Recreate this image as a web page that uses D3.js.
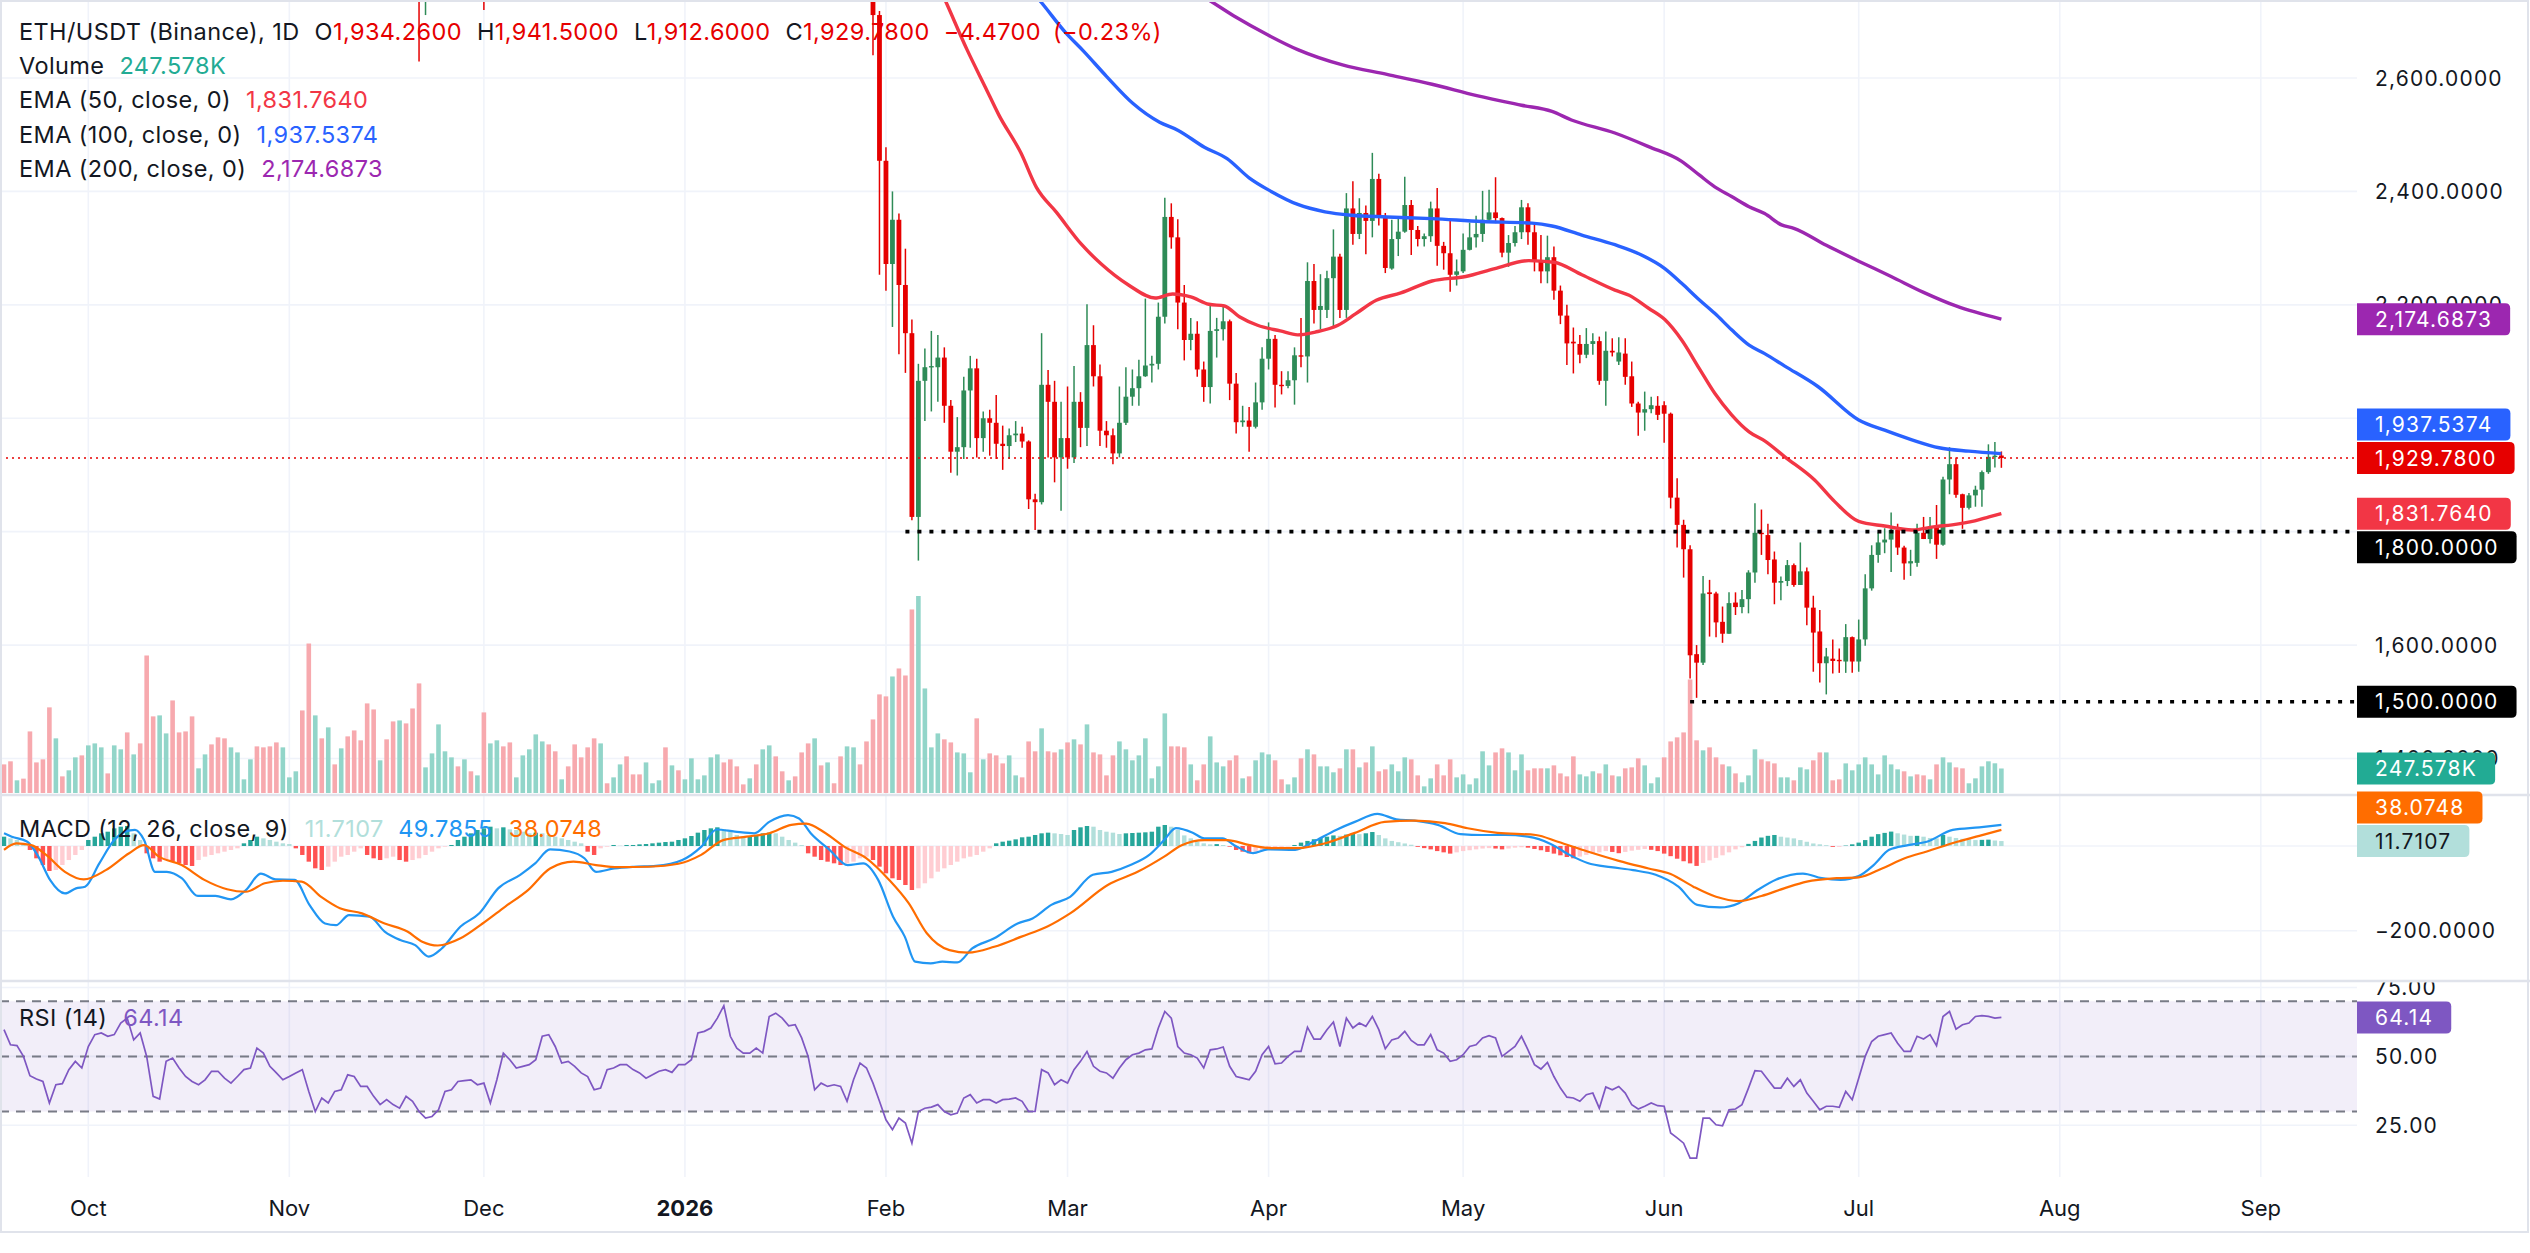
<!DOCTYPE html>
<html lang="en">
<head>
<meta charset="utf-8"/>
<title>ETH/USDT (Binance), 1D</title>
<script src="https://cdn.jsdelivr.net/npm/d3@7/dist/d3.min.js"></script>
<style>
  html, body { margin:0; padding:0; background:#fff; overflow:hidden; }
  svg { display:block; font-family: Inter, "Noto Sans", sans-serif; }
</style>
</head>
<body>
<svg id="chart" width="2530" height="1253"></svg>
<script>
// ---- data (day index 0 = 2025-09-18) ----
const startDate = Date.UTC(2025, 8, 18);

// [day, open, high, low, close]; earlier candles sit above the visible range
const candles = [
  [64,2880,2935,2629,2790],[65,2790,2880,2711,2850],[74,2950,3010,2720,2900],
  [134,2790,2800,2640,2711],[135,2711,2718,2253,2454],[136,2454,2478,2225,2272],[137,2272,2400,2161,2350],
  [138,2350,2361,2113,2235],[139,2235,2299,2080,2150],[140,2150,2174,1820,1826],[141,1826,2096,1749,2066],
  [142,2066,2123,1995,2090],[143,2090,2154,2012,2092],[144,2090,2147,2029,2107],[145,2107,2125,1992,2022],
  [146,2022,2032,1904,1941],[147,1941,2002,1899,1949],[148,1949,2073,1928,2049],[149,2049,2110,1948,2088],
  [150,2088,2105,1931,1965],[151,1965,2012,1941,2000],[152,2000,2015,1934,1992],[153,1992,2041,1928,1955],
  [154,1955,1987,1909,1951],[155,1951,1982,1928,1970],[156,1970,1995,1958,1973],[157,1973,1985,1948,1959],
  [158,1959,1961,1840,1857],[159,1857,1867,1803,1852],[160,1852,2150,1848,2059],[161,2059,2085,1931,2029],
  [162,2029,2066,1887,1931],[163,1931,2029,1837,1965],[164,1965,2056,1911,1931],[165,1931,2092,1921,2029],
  [166,2029,2046,1949,1983],[167,1983,2201,1951,2129],[168,2129,2164,2056,2074],[169,2074,2095,1951,1978],
  [170,1978,1995,1948,1970],[171,1970,1982,1919,1938],[172,1938,2056,1931,1992],[173,1992,2090,1988,2038],
  [174,2038,2086,2022,2053],[175,2053,2103,2022,2074],[176,2074,2211,2073,2093],[177,2093,2110,2063,2096],
  [178,2096,2204,2086,2179],[179,2179,2389,2167,2355],[180,2355,2379,2299,2319],[181,2319,2351,2157,2204],
  [182,2204,2235,2102,2138],[183,2138,2177,2120,2149],[184,2149,2171,2073,2086],[185,2086,2100,2029,2055],
  [186,2055,2199,2026,2154],[187,2154,2177,2107,2157],[188,2157,2200,2137,2171],[189,2171,2174,2032,2061],
  [190,2061,2080,1973,1993],[191,1993,2022,1985,1996],[192,1996,2020,1941,1985],[193,1985,2063,1982,2028],
  [194,2028,2125,2015,2105],[195,2105,2169,2086,2140],[196,2140,2147,2019,2059],[197,2059,2083,2042,2057],
  [198,2057,2083,2053,2067],[199,2067,2125,2024,2111],[200,2111,2177,2090,2109],[201,2109,2275,2063,2242],
  [202,2242,2272,2167,2191],[203,2191,2254,2157,2198],[204,2191,2260,2177,2247],[205,2247,2333,2161,2285],
  [206,2285,2290,2177,2191],[207,2191,2397,2177,2370],[208,2370,2418,2306,2325],[209,2325,2388,2316,2362],
  [210,2362,2375,2289,2348],[211,2348,2468,2319,2422],[212,2422,2431,2340,2356],[213,2356,2362,2256,2265],
  [214,2264,2350,2262,2316],[215,2316,2356,2286,2329],[216,2329,2426,2327,2376],[217,2376,2385,2288,2332],
  [218,2332,2339,2303,2316],[219,2316,2326,2303,2321],[220,2321,2382,2311,2370],[221,2370,2406,2269,2304],
  [222,2304,2311,2262,2291],[223,2291,2350,2223,2253],[224,2253,2280,2234,2259],[225,2259,2326,2256,2297],
  [226,2297,2345,2296,2319],[227,2319,2357,2301,2325],[228,2325,2401,2311,2350],[229,2350,2403,2347,2363],
  [230,2363,2425,2344,2353],[231,2353,2354,2284,2292],[232,2292,2323,2267,2309],[233,2309,2339,2303,2328],
  [234,2328,2385,2316,2372],[235,2372,2379,2306,2328],[236,2328,2344,2259,2276],[237,2276,2323,2238,2259],
  [238,2259,2322,2238,2284],[239,2284,2303,2209,2225],[240,2225,2234,2166,2181],[241,2181,2200,2094,2132],
  [242,2135,2160,2079,2132],[243,2131,2147,2097,2112],[244,2112,2159,2106,2131],[245,2131,2150,2112,2136],
  [246,2136,2144,2059,2066],[247,2066,2153,2022,2119],[248,2119,2141,2109,2116],[249,2100,2143,2094,2116],
  [250,2114,2141,2059,2073],[251,2074,2100,2020,2026],[252,2026,2029,1969,2010],[253,2010,2047,1978,2016],
  [254,2016,2038,2009,2023],[255,2022,2039,1997,2006],[256,2023,2030,1957,2008],[257,2008,2010,1841,1860],
  [258,1860,1894,1772,1812],[259,1812,1821,1719,1769],[260,1769,1776,1541,1582],[261,1584,1600,1507,1569],
  [262,1569,1722,1565,1691],[263,1693,1715,1615,1690],[264,1691,1694,1614,1640],[265,1641,1668,1604,1620],
  [266,1620,1693,1620,1674],[267,1675,1693,1653,1667],[268,1667,1697,1656,1681],[269,1681,1732,1656,1728],
  [270,1728,1850,1710,1798],[271,1798,1839,1759,1796],[272,1794,1814,1725,1750],[273,1751,1765,1672,1710],
  [274,1710,1721,1679,1713],[275,1713,1750,1704,1741],[276,1741,1744,1703,1706],[277,1706,1781,1706,1730],
  [278,1730,1737,1635,1666],[279,1666,1687,1553,1622],[280,1624,1662,1534,1568],[281,1568,1595,1513,1580],
  [282,1576,1610,1550,1572],[283,1574,1594,1551,1572],[284,1571,1637,1551,1614],[285,1614,1615,1551,1571],
  [286,1571,1645,1553,1610],[287,1610,1725,1599,1700],[288,1700,1776,1696,1759],[289,1759,1798,1745,1781],
  [290,1781,1806,1762,1786],[291,1786,1834,1729,1803],[292,1803,1814,1759,1772],[293,1772,1775,1715,1744],
  [294,1744,1768,1722,1748],[295,1745,1814,1738,1798],[296,1798,1826,1787,1787],[297,1787,1826,1779,1808],
  [298,1808,1847,1752,1777],[299,1777,1897,1775,1892],[300,1892,1949,1866,1919],[301,1919,1931,1860,1865],
  [302,1866,1867,1805,1842],[303,1842,1868,1839,1864],[304,1864,1881,1844,1874],[305,1874,1908,1844,1905],
  [306,1905,1954,1902,1932],[307,1932,1958,1913,1934],[308,1934.26,1941.5,1912.6,1929.78]
];

// volume in thousands, one per day; t = up colour, r = down colour
const volumes = [
  289,320,128,145,622,309,340,865,552,168, 229,360,380,481,501,461,198,481,441,612,
  390,501,1389,774,784,602,935,612,622,774, 249,390,491,562,552,461,410,138,340,471,
  461,471,511,461,158,219,834,1510,784,552, 663,289,451,572,632,532,905,844,330,542,
  723,733,703,854,1107,259,400,693,421,360, 269,340,219,178,814,501,532,471,511,158,
  380,441,592,521,491,421,138,269,491,360, 461,552,501,98,158,289,370,188,188,309,
  98,128,461,279,229,138,350,138,178,360, 390,309,340,269,87,148,289,441,481,370,
  219,128,168,410,501,552,279,309,98,370, 471,461,289,521,743,996,976,1177,1258,1187,
  1854,1990,1056,461,602,542,511,410,400,209, 754,340,400,380,299,380,178,158,521,421,
  653,421,410,441,511,542,491,693,410,390, 178,380,521,441,330,380,552,148,269,804,
  471,471,461,289,128,289,572,309,269,330, 380,148,168,330,410,390,330,138,87,158,
  350,441,390,269,269,209,249,441,441,259, 309,471,219,239,289,219,360,340,178,67,
  148,289,178,340,158,188,87,148,421,279, 410,451,410,229,390,229,249,249,249,279,
  198,168,370,188,168,219,198,289,178,168, 249,259,350,279,98,158,360,521,562,612,
  1147,532,431,461,360,289,269,198,108,178, 441,340,320,299,158,158,128,259,239,330,
  410,410,128,138,299,229,289,360,289,188, 380,289,239,219,168,188,178,138,289,360,
  309,259,249,98,148,269,320,300,247.578
];
const volDir =
  "rrtrrrrrtr" + "ttrtttrttr" + "trrrttrrrr" + "ttrrrttttr" + "rrrtttrrtr" +
  "trtrrrrrtr" + "rtrrrttttt" + "rtrtrttrrt" + "ttttrrtrrr" + "rrtrttrrrt" +
  "ttrtrttttt" + "trrrrtrttr" + "rtrrrtrtrr" + "ttrrrrrtrr" + "rttttrrttt" +
  "rtrrrttrrr" + "trrtrtrtrr" + "rrtttttttt" + "rrrtrrtttr" + "rtrtttrrtt" +
  "rtrtttrtrt" + "rtrrtttrrt" + "trrrtttttt" + "rrtttrrrtr" + "rrrtttrtrt" +
  "rrrtttrrrr" + "rrtrrrtrtt" + "trrrttrttr" + "rtrrtttttt" + "tttrtrrtrt" +
  "trrtttttt";

// moving averages: [day, value]
const ema50 = [[143,2790],[145.1,2738],[148.5,2650],[151.4,2582],[153.4,2535],[156.8,2468],[159.2,2407],
  [162.3,2363],[166.2,2306],[169.2,2272],[173.4,2235],[177.5,2212],[180.2,2219],[183,2214],[185.8,2201],
  [188.2,2198],[190.5,2179],[193.3,2164],[196.8,2154],[199.5,2147],[202.2,2152],[205.7,2164],[208.4,2184],
  [211.6,2208],[215.4,2221],[220.2,2242],[225.4,2250],[229.9,2264],[235.1,2278],[239,2275],[243.3,2253],
  [248.4,2226],[250.6,2217],[253.6,2194],[256.1,2174],[258.7,2138],[261.4,2088],[263.8,2044],[266.4,2006],
  [269.1,1976],[271.5,1960],[274.6,1932],[279.2,1891],[282.3,1853],[286,1818],[290,1810],[294.2,1803],
  [297.8,1809],[300.4,1812],[303.9,1819],[306.1,1826],[308,1831.764]];
const ema100 = [[157,2770],[159.6,2738],[163.7,2680],[166.5,2647],[170,2603],[174.1,2555],[178.2,2522],
  [181,2508],[185.1,2478],[188.6,2458],[192,2424],[195.4,2400],[199.5,2377],[203.7,2364],[207.8,2358],
  [213.3,2355],[220.2,2352],[227.9,2347],[235.6,2344],[238.7,2339],[243.3,2323],[248.4,2306],[252.5,2288],
  [256.1,2264],[258.7,2238],[261.4,2209],[263.8,2185],[266.4,2156],[269.1,2129],[271.5,2114],[274.6,2092],
  [279.7,2056],[286,1997],[290,1979],[294.2,1962],[298.4,1948],[303,1942],[308,1937.5374]];
const ema200 = [[182,2762],[185.7,2738],[190,2707],[194.7,2677],[199.5,2650],[206.4,2623],[213.4,2606],
  [220.2,2589],[227.1,2569],[234,2552],[238.7,2541],[241.7,2526],[248.4,2503],[253.6,2479],[258.7,2453],
  [261.4,2429],[263.8,2408],[266.4,2391],[269.1,2373],[271.5,2361],[274.1,2341],[276,2335],[281,2305],
  [286,2277],[291,2250],[296,2222],[301,2198],[308,2174.6873]];

// MACD (12, 26, 9): line and signal as [day, value], histogram one per day
const macdLine = [[0,30],[1.2,22],[3.6,10],[5.3,-25],[7.1,-80],[9.4,-112],[11.1,-100],[12.5,-96],[14.7,-41],
  [17,14],[18.7,34],[20.2,38],[21.6,14],[23.3,-61],[25.1,-61],[27.4,-76],[29.9,-118],[32.6,-118],[35,-126],
  [37.3,-104],[39.6,-65],[41.9,-79],[44.8,-80],[47.1,-139],[49.5,-183],[51.2,-187],[53.2,-163],[56.4,-167],
  [58.7,-202],[61.1,-222],[63.4,-234],[65.5,-261],[67.5,-242],[70.4,-190],[73.3,-159],[76.2,-100],[79.6,-68],
  [81.9,-41],[84.2,-8],[87.2,-13],[89.5,-29],[91.3,-61],[94.1,-53],[97.1,-49],[100.5,-47],[104.6,-33],
  [107.5,-2],[109.9,39],[112.7,34],[115.7,30],[118,57],[120.9,73],[122.6,65],[124.4,30],[127.3,-9],
  [130.1,-45],[132.5,-41],[134.8,-80],[137.1,-167],[138.9,-214],[140.5,-273],[142.9,-277],[144.7,-273],
  [147,-275],[149.3,-242],[152.7,-218],[156.3,-183],[158.6,-171],[161.5,-139],[164.4,-120],[167.9,-68],
  [170.8,-61],[173.7,-45],[176.6,-21],[178.9,14],[180.7,42],[183.3,31.5],[185.1,18],[187.9,18],[189.7,2],
  [192.6,-17],[194.9,-8],[199.1,-9],[201.9,10],[205.4,38],[208.3,57],[211.8,76],[214.7,63],[217.5,60],
  [221.1,50],[224.6,28],[228,26],[231.5,26],[235,22],[238.5,5],[241.4,-21],[244.2,-40],[247.8,-50],
  [251.2,-57],[254.7,-68],[258.2,-96],[261.1,-139],[264.6,-145],[267.5,-135],[270.4,-104],[273.3,-79],
  [277.4,-65],[280.3,-76],[283.2,-80],[286,-71],[288.3,-45],[290.7,-9],[293.6,2],[296.5,10],[300.5,38],
  [304.6,44],[308,49.7855]];
const signalLine = [[0,-9],[1.9,6],[4.2,2],[6.5,-21],[9.4,-61],[12.3,-79],[15.7,-57],[19.3,-17],[21.6,2],
  [23.9,-25],[27.4,-45],[30.9,-80],[34.4,-102],[37.3,-108],[40.2,-88],[43,-82],[45.9,-84],[48.9,-120],
  [51.8,-147],[55.2,-159],[58.7,-183],[62.2,-202],[64.5,-226],[66.9,-235],[70.4,-218],[73.8,-183],
  [77.3,-143],[80.8,-104],[84.2,-53],[87.8,-37],[91.3,-45],[94.7,-50],[99.4,-49],[104,-42],[107.5,-21],
  [110.9,14],[114.5,22],[118,30],[121.4,50],[123.7,53],[126.7,30],[129.6,-2],[133,-29],[136.5,-80],
  [139.5,-135],[142.3,-206],[145.8,-246],[148.7,-252],[152.7,-238],[156.9,-214],[160.9,-190],[164.4,-159],
  [170.2,-92],[174.8,-61],[178.9,-25],[181.6,2],[185.1,14],[188.6,14],[192.1,2],[195.5,-5],[199.6,-5],
  [203.6,6],[208.3,31],[212.9,57],[217.5,60],[222.2,54],[225.7,42],[230.3,31],[236.2,26],[239.6,10],
  [244.2,-13],[249,-35],[253.6,-53],[257,-66],[260.5,-96],[264,-120],[267.5,-130],[271,-118],[274.5,-100],
  [278,-84],[282.6,-76],[286,-74],[289.6,-53],[293.1,-29],[296.5,-13],[301.2,10],[304.6,24],[308,38.0748]];
const macdHist = [
  22.0,18.1,14.2,6.3,-9.4,-29.1,-44.9,-59.0,-56.7,-44.9, -33.1,-21.2,-9.4,14.2,22.0,29.9,33.8,41.7,45.6,47.2,
  29.9,14.2,-17.3,-29.1,-37.0,-33.1,-37.0,-40.9,-44.9,-47.2, -33.1,-25.2,-21.2,-17.3,-13.4,-9.4,-5.5,6.3,14.2,22.0,
  18.1,14.2,10.2,6.3,4.7,-5.5,-21.2,-37.0,-52.7,-56.7, -48.8,-37.0,-25.2,-21.2,-13.4,-5.5,-21.2,-29.1,-33.1,-29.1,
  -25.2,-33.1,-37.0,-33.1,-29.1,-21.2,-13.4,-5.5,-1.6,2.4, 14.2,22.0,29.9,37.8,41.7,45.6,41.7,44.1,39.4,37.8,
  33.8,29.9,31.5,29.9,26.0,22.0,18.1,14.2,10.2,6.3, -13.4,-21.2,-5.5,-1.6,2.4,0.8,2.4,2.4,3.9,4.7,
  6.3,7.9,9.4,10.2,14.2,18.1,23.6,31.5,37.8,41.7, 44.1,39.4,33.8,26.0,22.0,23.6,26.0,29.9,31.5,29.9,
  22.0,14.2,7.9,2.4,-17.3,-25.2,-33.1,-37.0,-40.9,-44.9, -40.9,-37.0,-29.1,-25.2,-33.1,-48.8,-64.5,-76.3,-80.3,-92.1,
  -103.9,-99.9,-88.1,-76.3,-60.6,-52.7,-44.9,-37.0,-29.1,-25.2, -21.2,-13.4,-5.5,6.3,10.2,12.6,15.7,20.5,22.0,26.0,
  29.9,31.5,29.9,28.3,26.0,37.8,44.1,47.2,45.6,37.8, 33.8,31.5,28.3,29.9,30.7,31.5,32.3,33.8,45.6,49.6,
  45.6,37.8,25.0,18.1,11.0,6.3,3.9,4.5,2.4,-1.6, -9.4,-13.4,-17.3,-13.4,-9.4,-5.5,-3.0,-2.0,-1.0,2.4,
  8,12,16,19,22,25,24,27,30,28, 30,33,26,18,12,9,6,3,-2,-5,
  -8,-12,-15,-18,-15,-12,-10,-8,-6,-5, -6,-8,-6,-4,-3,-4,-7,-10,-14,-18,
  -22,-26,-29,-25,-21,-18,-15,-12,-14,-17, -14,-11,-9,-7,-9,-12,-18,-24,-30,-36,
  -41,-47,-40,-34,-28,-22,-15,-8,-3,5, 12,20,24,26,22,20,18,14,10,6,
  4,2,-2,-2,1,4,8,14,22,28, 31,34,30,27,24,24,22,19,18,26,
  22,19,17,16,14,14.5,15,13,11.7107
];

// RSI (14), one per day
const rsi = [
  59.7,54.2,53.9,50.0,43.0,41.8,40.9,33.1,39.7,40.1, 45.2,48.2,45.8,53.6,57.9,58.5,57.3,57.9,62.1,63.9,
  56.0,58.5,50.0,35.5,34.5,48.2,49.4,45.8,42.7,40.9, 39.7,41.5,44.6,44.6,42.1,40.3,42.7,45.2,45.8,53.0,
  51.2,46.4,44.0,41.5,42.7,44.0,45.2,37.3,30.0,34.9, 33.1,37.3,37.9,43.3,42.7,39.1,39.1,35.5,32.5,34.3,
  32.5,31.2,35.5,33.7,30.0,27.6,28.2,30.6,37.3,37.9, 40.9,41.2,41.5,39.7,40.3,33.1,41.5,51.2,48.8,45.8,
  46.4,47.0,48.8,57.3,57.9,53.6,47.6,48.2,46.4,44.0, 42.7,37.9,38.5,45.2,45.8,47.0,47.0,45.2,44.0,42.1,
  43.3,44.6,45.2,44.2,47.0,47.0,48.8,58.5,59.1,60.3, 63.9,68.4,57.3,53.0,51.2,51.2,53.0,51.2,64.5,65.7,
  63.9,61.1,61.5,56.7,50.0,37.9,40.3,39.1,39.7,39.1, 33.7,41.5,47.6,45.8,40.3,33.7,27.0,23.4,27.6,25.8,
  18.5,30.0,31.2,31.6,32.5,30.0,28.8,29.4,34.9,36.1, 33.1,34.3,34.3,33.1,34.3,34.5,34.9,33.7,30.0,30.0,
  45.2,44.0,39.7,41.5,40.3,45.2,48.2,51.8,46.4,44.6, 44.0,42.1,45.8,48.8,50.6,51.2,52.4,52.7,60.3,66.3,
  63.9,53.6,51.2,50.6,49.4,45.8,52.4,52.7,53.4,46.4, 42.7,42.1,41.5,44.6,50.6,53.6,47.3,47.6,50.0,51.8,
  51.8,60.6,56.3,56.3,59.7,62.5,53.6,63.9,60.3,62.1, 60.9,64.5,59.7,52.8,56.0,56.7,59.1,55.8,54.2,54.2,
  57.9,52.4,51.2,48.2,48.8,50.6,53.6,54.2,56.7,57.5, 56.7,50.0,51.8,53.6,57.3,52.4,47.0,45.4,47.8,42.7,
  38.5,35.2,34.9,33.7,36.1,36.7,31.2,38.9,37.9,39.1, 36.7,32.5,30.9,31.9,33.1,32.1,31.9,22.2,20.4,18.5,
  13.1,13.1,27.6,27.6,25.2,24.8,30.6,30.9,32.5,38.5, 44.8,44.6,41.5,38.5,38.5,42.1,39.1,41.5,36.7,33.7,
  30.6,31.9,31.9,31.5,37.3,34.3,42.1,50.0,55.4,57.3, 57.9,58.5,54.8,51.8,51.8,57.3,56.3,57.9,53.9,64.5,
  66.3,59.9,61.5,62.1,64.5,64.8,64.5,63.9,64.14
];

const priceTicks = [2600, 2400, 2200, 2000, 1800, 1600, 1400];
const macdTicks = [0, -200];
const rsiTicks = [75, 50, 25];
const rsiBands = [70, 50, 30];
const monthLabels = ["Oct","Nov","Dec","2026","Feb","Mar","Apr","May","Jun","Jul","Aug","Sep"];
const levels = [{price: 1800, from: 139}, {price: 1500, from: 260}];
const lastBar = {o: 1934.26, h: 1941.5, l: 1912.6, c: 1929.78, chg: -4.47, pct: -0.23};

// ---- layout ----
const W = 2530, H = 1253;
const plotR = 2357, axisX = 2375;
const panes = {price: [0, 795], macd: [795, 981], rsi: [981, 1177]};
const C = {
  text: "#131722", grid: "#f0f3fa", sep: "#e0e3eb",
  up: "#2e8b57", down: "#e60000", volUp: "#92d5c9", volDown: "#f7a9ae",
  ema50: "#f23645", ema100: "#2962ff", ema200: "#9c27b0",
  macd: "#2196f3", signal: "#ff6d00", rsi: "#7e57c2", vol: "#22ab94"
};
const fmt4 = d3.format(",.4f");
const fmt2 = d3.format(".2f");
const minus = s => s.replace("-", "\u2212");

const DAY = 86400000;
const dateOf = i => new Date(startDate + i * DAY);
const x = d3.scaleUtc().domain([dateOf(0), dateOf(308)]).range([4, 4 + 308 * 6.485]);
const xi = i => x(dateOf(i));
const yPrice = d3.scaleLinear().domain([1400, 2600]).range([758.5, 78]);
const yVol = d3.scaleLinear().domain([0, 2000]).range([793, 595]);
const yMacd = d3.scaleLinear().domain([0, -200]).range([846, 930.7]);
const yRsi = d3.scaleLinear().domain([30, 70]).range([1111.5, 1001.3]);

const svg = d3.select("#chart");
svg.append("rect").attr("width", W).attr("height", H).attr("fill", "#fff");

const defs = svg.append("defs");
Object.entries(panes).forEach(([k, [t, b]]) => {
  defs.append("clipPath").attr("id", "clip-" + k)
    .append("rect").attr("x", 0).attr("y", t).attr("width", plotR).attr("height", b - t);
  defs.append("clipPath").attr("id", "aclip-" + k)
    .append("rect").attr("x", plotR).attr("y", t + 1.5).attr("width", W - plotR).attr("height", b - t - 1.5);
});

// ---- grid ----
const months = d3.utcMonth.range(new Date(Date.UTC(2025, 9, 1)), new Date(Date.UTC(2026, 9, 1)));
const grid = svg.append("g").attr("stroke", C.grid).attr("stroke-width", 1.6);
grid.selectAll("line.v").data(months).join("line")
  .attr("x1", d => x(d)).attr("x2", d => x(d)).attr("y1", 0).attr("y2", panes.rsi[1]);
grid.selectAll("line.p").data(priceTicks).join("line")
  .attr("x1", 0).attr("x2", plotR).attr("y1", d => yPrice(d)).attr("y2", d => yPrice(d));
grid.selectAll("line.m").data(macdTicks).join("line")
  .attr("x1", 0).attr("x2", plotR).attr("y1", d => yMacd(d)).attr("y2", d => yMacd(d));
grid.selectAll("line.r").data(rsiTicks).join("line")
  .attr("x1", 0).attr("x2", plotR).attr("y1", d => yRsi(d)).attr("y2", d => yRsi(d));

// ---- price pane ----
const pricePane = svg.append("g").attr("clip-path", "url(#clip-price)");

pricePane.append("g").selectAll("rect").data(volumes).join("rect")
  .attr("x", (v, i) => xi(i) - 2.3).attr("width", 4.6)
  .attr("y", v => yVol(v)).attr("height", v => yVol(0) - yVol(v))
  .attr("fill", (v, i) => volDir[i] === "t" ? C.volUp : C.volDown);

const candleG = pricePane.append("g").selectAll("g").data(candles).join("g")
  .attr("fill", d => d[4] >= d[1] ? C.up : C.down)
  .attr("stroke", d => d[4] >= d[1] ? C.up : C.down);
candleG.append("line")
  .attr("x1", d => xi(d[0])).attr("x2", d => xi(d[0]))
  .attr("y1", d => yPrice(d[2])).attr("y2", d => yPrice(d[3]))
  .attr("stroke-width", 1.5);
candleG.append("rect")
  .attr("stroke", "none")
  .attr("x", d => xi(d[0]) - 2.4).attr("width", 4.8)
  .attr("y", d => yPrice(Math.max(d[1], d[4])))
  .attr("height", d => Math.max(1.4, Math.abs(yPrice(d[1]) - yPrice(d[4]))));

const emaLine = d3.line().x(d => xi(d[0])).y(d => yPrice(d[1])).curve(d3.curveMonotoneX);
[[ema50, C.ema50], [ema100, C.ema100], [ema200, C.ema200]].forEach(([data, col]) => {
  pricePane.append("path").attr("d", emaLine(data))
    .attr("fill", "none").attr("stroke", col).attr("stroke-width", 3.4).attr("stroke-linejoin", "round");
});

// horizontal rays and last price line
pricePane.selectAll("line.lvl").data(levels).join("line")
  .attr("x1", d => xi(d.from)).attr("x2", plotR)
  .attr("y1", d => yPrice(d.price)).attr("y2", d => yPrice(d.price))
  .attr("stroke", "#000").attr("stroke-width", 3.6).attr("stroke-dasharray", "4 8");
pricePane.append("line")
  .attr("x1", 0).attr("x2", plotR).attr("y1", yPrice(lastBar.c)).attr("y2", yPrice(lastBar.c))
  .attr("stroke", C.down).attr("stroke-width", 1.6).attr("stroke-dasharray", "2 4");

// ---- MACD pane ----
const macdPane = svg.append("g").attr("clip-path", "url(#clip-macd)");
macdPane.append("g").selectAll("rect").data(macdHist).join("rect")
  .attr("x", (v, i) => xi(i) - 2.2).attr("width", 4.4)
  .attr("y", v => Math.min(yMacd(v), yMacd(0)))
  .attr("height", v => Math.abs(yMacd(v) - yMacd(0)))
  .attr("fill", (v, i) => {
    const prev = i ? macdHist[i - 1] : v;
    if (v >= 0) return v >= prev ? "#26a69a" : "#b2dfdb";
    return v < prev ? "#ff5252" : "#ffcdd2";
  });
const macdGen = d3.line().x(d => xi(d[0])).y(d => yMacd(d[1])).curve(d3.curveMonotoneX);
macdPane.append("path").attr("d", macdGen(macdLine))
  .attr("fill", "none").attr("stroke", C.macd).attr("stroke-width", 2.2);
macdPane.append("path").attr("d", macdGen(signalLine))
  .attr("fill", "none").attr("stroke", C.signal).attr("stroke-width", 2.2);

// ---- RSI pane ----
const rsiPane = svg.append("g").attr("clip-path", "url(#clip-rsi)");
rsiPane.append("rect")
  .attr("x", 0).attr("width", plotR)
  .attr("y", yRsi(70)).attr("height", yRsi(30) - yRsi(70))
  .attr("fill", C.rsi).attr("fill-opacity", 0.1);
rsiPane.selectAll("line.band").data(rsiBands).join("line")
  .attr("x1", 0).attr("x2", plotR).attr("y1", d => yRsi(d)).attr("y2", d => yRsi(d))
  .attr("stroke", "#787b86").attr("stroke-width", 2).attr("stroke-dasharray", "9 7");
rsiPane.append("path")
  .attr("d", d3.line().x((v, i) => xi(i)).y(v => yRsi(v))(rsi))
  .attr("fill", "none").attr("stroke", C.rsi).attr("stroke-width", 1.7);

// ---- separators and frame ----
svg.selectAll("line.sep").data([panes.price[1], panes.macd[1]]).join("line")
  .attr("x1", 0).attr("x2", W).attr("y1", d => d).attr("y2", d => d)
  .attr("stroke", C.sep).attr("stroke-width", 2.5);
svg.append("rect").attr("x", 1).attr("y", 1).attr("width", W - 3).attr("height", 1231)
  .attr("fill", "none").attr("stroke", C.sep).attr("stroke-width", 2);

// ---- value tags on the right, pushed apart where they collide ----
const tags = [
  {y: yPrice(2174.6873), text: fmt4(2174.6873), fill: C.ema200},
  {y: yPrice(1937.5374), text: fmt4(1937.5374), fill: C.ema100},
  {y: yPrice(lastBar.c), text: fmt4(lastBar.c), fill: C.down, pin: true},
  {y: yPrice(1831.764), text: fmt4(1831.764), fill: C.ema50},
  {y: yPrice(1800), text: fmt4(1800), fill: "#000"},
  {y: yPrice(1500), text: fmt4(1500), fill: "#000"},
  {y: yVol(247.578), text: "247.578K", fill: C.vol},
  {y: yMacd(38.0748), text: "38.0748", fill: C.signal},
  {y: yMacd(11.7107), text: "11.7107", fill: "#b2dfdb", color: C.text, pin: true},
  {y: yRsi(64.14), text: "64.14", fill: C.rsi}
];
const tagH = 32, gap = 33.5;
tags.sort((a, b) => a.y - b.y);
for (let i = 1; i < tags.length; i++) {
  const a = tags[i - 1], b = tags[i];
  if (b.y - a.y < gap) {
    if (b.pin) a.y = b.y - gap; else b.y = a.y + gap;
  }
}

// ---- right axis (labels fully covered by tags are left out) ----
const hidden = v => {
  const near = tags.filter(t => Math.abs(t.y - v) < 34);
  return near.some(t => Math.abs(t.y - v) < 8) ||
    (near.some(t => t.y < v) && near.some(t => t.y > v));
};
function axisLabels(pane, ticks, scale, format) {
  svg.append("g").attr("clip-path", `url(#aclip-${pane})`)
    .selectAll("text").data(ticks.filter(d => !hidden(scale(d)))).join("text")
    .attr("x", axisX).attr("y", d => scale(d))
    .attr("dominant-baseline", "central")
    .attr("font-size", 21).attr("letter-spacing", 1.2).attr("fill", C.text)
    .text(format);
}
axisLabels("price", priceTicks, yPrice, fmt4);
axisLabels("macd", macdTicks, yMacd, d => minus(fmt4(d)));
axisLabels("rsi", rsiTicks, yRsi, fmt2);

tags.forEach(t => {
  const g = svg.append("g");
  const txt = g.append("text")
    .attr("x", axisX).attr("y", t.y).attr("dominant-baseline", "central")
    .attr("font-size", 21).attr("letter-spacing", 1.2)
    .attr("fill", t.color || "#fff").text(t.text);
  const w = txt.node().getComputedTextLength() + 36;
  const r = 5, x0 = plotR, y0 = t.y - tagH / 2;
  g.insert("path", "text")
    .attr("d", `M${x0},${y0}H${x0 + w - r}Q${x0 + w},${y0} ${x0 + w},${y0 + r}V${y0 + tagH - r}Q${x0 + w},${y0 + tagH} ${x0 + w - r},${y0 + tagH}H${x0}Z`)
    .attr("fill", t.fill);
});

// ---- time axis ----
svg.append("g").selectAll("text").data(months).join("text")
  .attr("x", d => x(d)).attr("y", 1208)
  .attr("text-anchor", "middle").attr("dominant-baseline", "central")
  .attr("font-size", 22).attr("fill", C.text)
  .attr("font-weight", (d, i) => monthLabels[i] === "2026" ? 700 : 400)
  .text((d, i) => monthLabels[i]);

// ---- legends ----
function legend(y, parts) {
  const t = svg.append("text").attr("x", 19).attr("y", y)
    .attr("dominant-baseline", "central").attr("font-size", 23.5).attr("letter-spacing", 0.4);
  parts.forEach(p => t.append("tspan").attr("dx", p.gap || 0).attr("fill", p.c || C.text).text(p.t));
}
legend(31, [
  {t: "ETH/USDT (Binance), 1D"},
  {t: "O", gap: 15}, {t: fmt4(lastBar.o), c: C.down},
  {t: "H", gap: 15}, {t: fmt4(lastBar.h), c: C.down},
  {t: "L", gap: 15}, {t: fmt4(lastBar.l), c: C.down},
  {t: "C", gap: 15}, {t: fmt4(lastBar.c), c: C.down},
  {t: minus(fmt4(lastBar.chg)), c: C.down, gap: 14},
  {t: "(" + minus(fmt2(lastBar.pct)) + "%)", c: C.down, gap: 12}
]);
legend(65, [{t: "Volume"}, {t: "247.578K", c: C.vol, gap: 15}]);
legend(99, [{t: "EMA (50, close, 0)"}, {t: fmt4(1831.764), c: C.ema50, gap: 15}]);
legend(133.5, [{t: "EMA (100, close, 0)"}, {t: fmt4(1937.5374), c: C.ema100, gap: 15}]);
legend(168, [{t: "EMA (200, close, 0)"}, {t: fmt4(2174.6873), c: C.ema200, gap: 15}]);
legend(828, [
  {t: "MACD (12, 26, close, 9)"},
  {t: "11.7107", c: "#b2dfdb", gap: 16},
  {t: "49.7855", c: C.macd, gap: 16},
  {t: "38.0748", c: C.signal, gap: 16}
]);
legend(1017, [{t: "RSI (14)"}, {t: "64.14", c: C.rsi, gap: 16}]);
</script>
</body>
</html>
